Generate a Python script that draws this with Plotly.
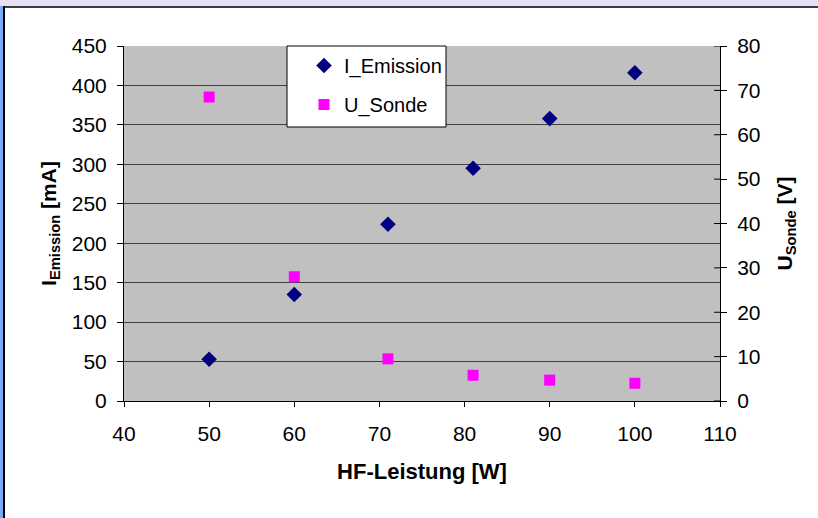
import plotly.graph_objects as go

power = [50, 60, 71, 81, 90, 100]
i_emission = [53, 135, 224, 295, 358, 416]
u_sonde = [68.5, 28, 9.5, 5.8, 4.7, 4.0]

x_ticks = [40, 50, 60, 70, 80, 90, 100, 110]
y_ticks = [0, 50, 100, 150, 200, 250, 300, 350, 400, 450]
y2_ticks = [0, 10, 20, 30, 40, 50, 60, 70, 80]

W, H = 818, 518
L, R, T, B = 124, 720, 46, 401

def px(x):
    return (x - L) / (R - L)

def py(y):
    return (B - y) / (B - T)

fam = "Arial, Liberation Sans, sans-serif"

fig = go.Figure()
fig.add_trace(go.Scatter(
    x=power, y=i_emission, mode="markers", name="I_Emission", legendgroup="a",
    marker=dict(symbol="diamond", size=12, color="#000080"),
))
fig.add_trace(go.Scatter(
    x=power, y=u_sonde, mode="markers", name="U_Sonde", yaxis="y2", legendgroup="b",
    marker=dict(symbol="square", size=11, color="#FF00FF"),
))

fig.update_layout(
    width=W, height=H,
    margin=dict(l=L, r=W - R, t=T, b=H - B, pad=0),
    paper_bgcolor="white",
    plot_bgcolor="#C0C0C0",
    font=dict(family=fam, size=21, color="black"),
    showlegend=True,
    legend=dict(
        x=px(304), y=py(46), xanchor="left", yanchor="top",
        bgcolor="rgba(0,0,0,0)", borderwidth=0,
        font=dict(family=fam, size=20),
        itemwidth=30, tracegroupgap=10, traceorder="grouped",
    ),
    xaxis=dict(
        range=[40, 110], tickvals=x_ticks, showgrid=False, zeroline=False,
        showline=True, linecolor="black", linewidth=1,
        ticks="outside", ticklen=5, tickcolor="black",
        tickfont=dict(size=21), ticklabelstandoff=9,
        title=dict(text="<b>HF-Leistung [W]</b>", font=dict(size=22), standoff=19),
    ),
    yaxis=dict(
        range=[0, 450], tickvals=y_ticks, showgrid=True, gridcolor="#404040", gridwidth=1,
        zeroline=False, showline=True, linecolor="black", linewidth=1,
        ticks="outside", ticklen=6, tickcolor="black",
        tickfont=dict(size=21), ticklabelstandoff=6,
        title=dict(text="<b>I<sub>Emission</sub> [mA]</b>", font=dict(size=21), standoff=9),
    ),
    yaxis2=dict(
        range=[0, 80], tickvals=y2_ticks, overlaying="y", side="right",
        showgrid=False, zeroline=False, showline=True, linecolor="black", linewidth=1,
        ticks="outside", ticklen=6, tickcolor="black",
        tickfont=dict(size=21), ticklabelstandoff=6,
        title=dict(text="<b>U<sub>Sonde</sub> [V]</b>", font=dict(size=21), standoff=17),
    ),
)

shapes = [
    dict(type="rect", xref="paper", yref="paper", x0=px(0), x1=px(W), y0=py(0), y1=py(6),
         fillcolor="#E6E0F2", line_width=0, layer="above"),
    dict(type="rect", xref="paper", yref="paper", x0=px(3), x1=px(W), y0=py(6), y1=py(8),
         fillcolor="#3C3C44", line_width=0, layer="above"),
    dict(type="rect", xref="paper", yref="paper", x0=px(0), x1=px(3), y0=py(6), y1=py(H),
         fillcolor="#78AAF8", line_width=0, layer="above"),
    dict(type="rect", xref="paper", yref="paper", x0=px(3), x1=px(5), y0=py(6), y1=py(H),
         fillcolor="#000000", line_width=0, layer="above"),
    # legend box
    dict(type="rect", xref="paper", yref="paper", x0=px(287), x1=px(446), y0=py(46), y1=py(127),
         fillcolor="white", line=dict(color="black", width=1), layer="above"),
]
for v in y2_ticks:
    shapes.append(dict(type="line", xref="paper", yref="y2", x0=px(714), x1=1, y0=v, y1=v,
                       line=dict(color="black", width=1), layer="above"))
fig.update_layout(shapes=shapes)

fig.write_html("out.html")
